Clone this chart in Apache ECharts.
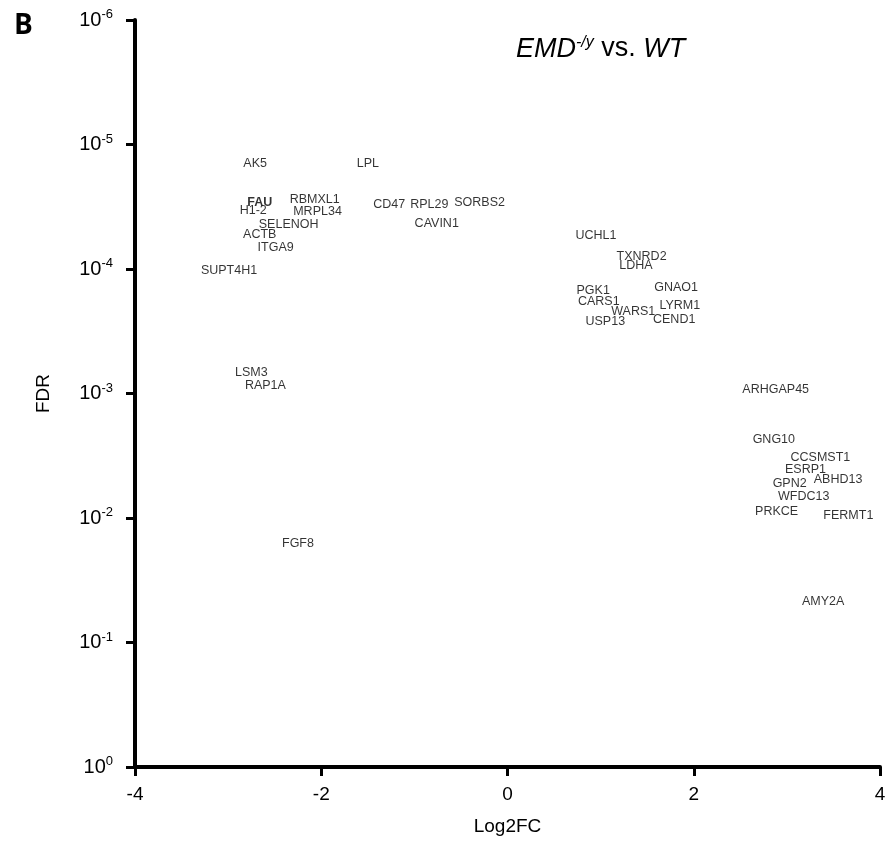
<!DOCTYPE html>
<html><head><meta charset="utf-8">
<script src="https://cdn.jsdelivr.net/npm/echarts@6/dist/echarts.min.js"></script>
<style>html,body{margin:0;padding:0;background:#fff}#c{width:891px;height:845px}</style>
</head><body><div id="c"></div>
<script>
const genes = ["AK5","LPL","FAU","H1-2","RBMXL1","MRPL34","SELENOH","ACTB","ITGA9","SUPT4H1",
  "CD47","RPL29","SORBS2","CAVIN1","UCHL1","TXNRD2","LDHA","GNAO1","PGK1","CARS1",
  "LYRM1","WARS1","USP13","CEND1","LSM3","RAP1A","FGF8","ARHGAP45","GNG10","CCSMST1",
  "ESRP1","ABHD13","GPN2","WFDC13","PRKCE","FERMT1","AMY2A"];
const log2fc = [-2.71,-1.50,-2.66,-2.73,-2.07,-2.04,-2.35,-2.66,-2.49,-2.99,
  -1.27,-0.84,-0.30,-0.76,0.95,1.44,1.38,1.81,0.92,0.98,
  1.85,1.35,1.05,1.79,-2.75,-2.60,-2.25,2.88,2.86,3.36,
  3.20,3.55,3.03,3.18,2.89,3.66,3.39];
const fdr = [1.41e-5,1.41e-5,2.90e-5,3.42e-5,2.79e-5,3.48e-5,4.36e-5,5.33e-5,6.78e-5,1.02e-4,
  3.06e-5,3.06e-5,2.90e-5,4.28e-5,5.43e-5,7.87e-5,9.46e-5,1.40e-4,1.48e-4,1.84e-4,
  1.95e-4,2.21e-4,2.62e-4,2.57e-4,6.84e-4,8.71e-4,0.0159,9.38e-4,2.36e-3,3.24e-3,
  4.11e-3,4.95e-3,5.33e-3,6.78e-3,8.95e-3,9.64e-3,0.0473];
const boldGenes = ["FAU"];

const chart = echarts.init(document.getElementById('c'));
const data = genes.map((g,i)=>({value:[log2fc[i], fdr[i]], name:g,
  label: boldGenes.includes(g) ? {fontWeight:'bold'} : undefined}));
chart.setOption({
  animation:false,
  backgroundColor:'#fff',
  title:[{
    text:'{i|EMD}{sup|-/y}{n| vs. }{i|WT}',
    left:511, top:30,
    textStyle:{fontWeight:'normal',rich:{
      i:{fontSize:27,fontStyle:'italic',fontWeight:'normal',fontFamily:'Liberation Sans',color:'#000'},
      n:{fontSize:27,fontWeight:'normal',fontFamily:'Liberation Sans',color:'#000'},
      sup:{fontSize:16,fontStyle:'italic',fontWeight:'normal',fontFamily:'Liberation Sans',color:'#000',padding:[0,0,12,0]}
    }}
  },{
    text:'B', left:9, top:7,
    textStyle:{fontSize:28,fontWeight:'bold',fontFamily:'Open Sans',color:'#000'}
  }],
  grid:{left:135,right:11,top:20,bottom:78,containLabel:false},
  xAxis:{
    type:'value',min:-4,max:4,interval:2,
    name:'Log2FC',nameLocation:'middle',nameGap:50,
    nameTextStyle:{fontSize:19,fontFamily:'Liberation Sans',color:'#000'},
    axisLine:{onZero:false,lineStyle:{color:'#000',width:4}},
    axisTick:{length:9,lineStyle:{color:'#000',width:3}},
    axisLabel:{fontSize:19,fontFamily:'Liberation Sans',color:'#000',margin:18,
      formatter:v=>String(v)},
    splitLine:{show:false}
  },
  yAxis:{
    type:'log',logBase:10,min:1e-6,max:1,inverse:true,
    name:'FDR',nameLocation:'middle',nameGap:82,nameRotate:90,
    nameTextStyle:{fontSize:19,fontFamily:'Liberation Sans',color:'#000'},
    axisLine:{onZero:false,lineStyle:{color:'#000',width:4}},
    axisTick:{length:9,lineStyle:{color:'#000',width:3}},
    axisLabel:{margin:22,
      formatter:v=>'{b|10}{s|'+Math.round(Math.log10(v))+'}',
      rich:{
        b:{fontSize:20,fontFamily:'Liberation Sans',color:'#000'},
        s:{fontSize:13,fontFamily:'Liberation Sans',color:'#000',padding:[0,0,11,0]}
      }},
    splitLine:{show:false}
  },
  series:[{
    type:'scatter',symbolSize:0,data:data,
    label:{show:true,position:'inside',formatter:p=>p.name,
      fontSize:12.5,fontFamily:'Liberation Sans',color:'#000',textBorderWidth:0}
  }]
});
</script></body></html>
